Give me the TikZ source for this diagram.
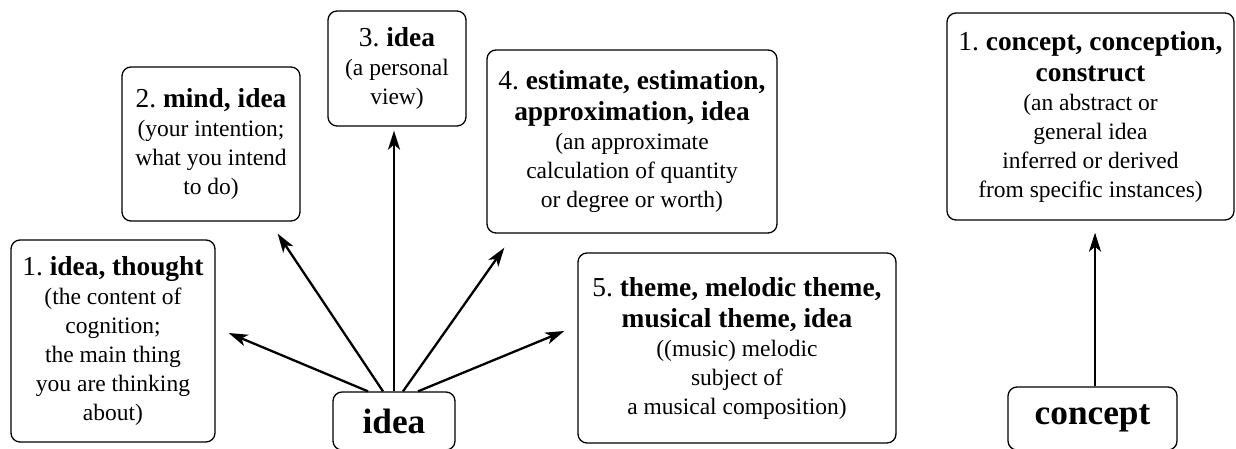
\documentclass[tikz,border=0pt]{standalone}
\usepackage{fontspec}
\setmainfont{Liberation Serif}
\usetikzlibrary{arrows.meta}
\frenchspacing
\tikzset{
  sense/.style={draw, line width=1.3pt, rounded corners=9pt, align=center, inner sep=0pt,
    font=\fontsize{23.5}{29}\selectfont},
  word/.style={draw, line width=1.3pt, rounded corners=9pt, inner sep=0pt,
    font=\fontsize{35.3}{42}\selectfont\bfseries},
  link/.style={line width=2.3pt, -{Stealth[length=19pt,width=12pt,inset=5pt]}}
}
\newcommand{\hd}[1]{{\fontsize{27.4}{33}\selectfont #1}}
\begin{document}
\begin{tikzpicture}[x=1pt,y=-1pt]
			\useasboundingbox (0,0) rectangle (1236,449);
			% senses of idea
			\node[sense, minimum width=204pt, minimum height=202pt] (thought) at (113,341)
			{\hd{1. \textbf{idea, thought}}\\(the content of\\cognition;\\the main thing\\you are thinking\\about)};
			\node[sense, minimum width=178pt, minimum height=154pt] (mind) at (211,144)
			{\hd{2. \textbf{mind, idea}}\\(your intention;\\what you intend\\to do)};
			\node[sense, minimum width=138pt, minimum height=115pt] (view) at (397,68.5)
			{\hd{3. \textbf{idea}}\\(a personal\\view)};
			\node[sense, minimum width=290pt, minimum height=183pt] (estimate) at (632,141.5)
			{\hd{4. \textbf{estimate, estimation,}}\\[2pt]\hd{\textbf{approximation, idea}}\\(an approximate\\calculation of quantity\\or degree or worth)};
			\node[sense, minimum width=318pt, minimum height=190pt] (theme) at (737,348)
			{\hd{5. \textbf{theme, melodic theme,}}\\[2pt]\hd{\textbf{musical theme, idea}}\\((music) melodic\\subject of\\a musical composition)};
			% sense of concept
			\node[sense, minimum width=287pt, minimum height=207pt] (abstract) at (1090.5,116.5)
			{\hd{1. \textbf{concept, conception,}}\\[2pt]\hd{\textbf{construct}}\\(an abstract or\\general idea\\inferred or derived\\from specific instances)};
			% words
			\node[word, minimum width=122pt, minimum height=58pt] (idea) at (394,421) {idea};
			\node[word, minimum width=169pt, minimum height=63pt] (concept) at (1092.5,418.5) {concept};
			% links
			\draw[link] ([xshift=-26pt]idea.north) -- ([xshift=13pt,yshift=8pt]thought.east);
			\draw[link] ([xshift=-11pt]idea.north) -- ([xshift=-23pt,yshift=-12pt]mind.south east);
			\draw[link] (idea.north) -- ([yshift=-4pt]idea.north |- view.south);
			\draw[link] ([xshift=9pt]idea.north) -- ([xshift=18pt,yshift=-14pt]estimate.south west);
			\draw[link] ([xshift=24pt]idea.north) -- ([xshift=-13pt,yshift=17pt]theme.west);
			\draw[link] ([xshift=2.5pt]concept.north) -- ([xshift=2.5pt,yshift=-12pt]concept.north |- abstract.south);
		\end{tikzpicture}
\end{document}
